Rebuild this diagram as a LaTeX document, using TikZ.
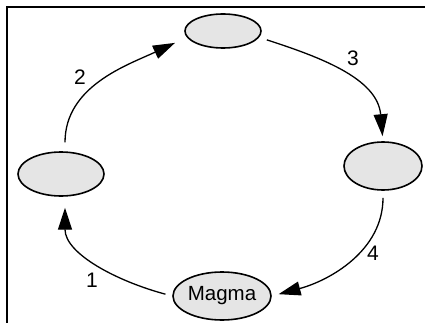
\documentclass[tikz,border=0pt]{standalone}
\usepackage{fontspec}
\setmainfont{Liberation Sans}
\usetikzlibrary{shapes.geometric,arrows.meta}
\tikzset{
  stage/.style={ellipse, draw=black, line width=1.6pt, fill=gray!20, inner sep=0pt},
  flow/.style={line width=1.3pt, -{Triangle[length=22pt,width=14pt]}},
  num/.style={font=\fontsize{21}{25}\selectfont, inner sep=0pt}
}
\begin{document}
\begin{tikzpicture}[x=1pt,y=1pt]
\useasboundingbox (0,0) rectangle (425,322);
\clip (0,0) rectangle (425,322);
\fill[white] (0,0) rectangle (425,322);
\draw[line width=1.4pt] (7,-20) -- (7,315) -- (445,315);
\node[stage, minimum width=76pt, minimum height=34pt] (top) at (223,291) {};
\node[stage, minimum width=86pt, minimum height=44pt] (left) at (61,148) {};
\node[stage, minimum width=78pt, minimum height=48pt] (right) at (383,156) {};
\node[stage, minimum width=98pt, minimum height=48pt, font=\fontsize{20.5}{24}\selectfont] (magma) at (222,26) {Magma};
\node[num] (n1) at (92,42) {1};
\node[num] (n2) at (80,245) {2};
\node[num] (n3) at (353,264) {3};
\node[num] (n4) at (373,69) {4};
\draw[flow, shorten <=7pt, shorten >=11pt] (magma.west) to[out=165,in=-90] (left.-80);
\draw[flow, shorten <=9pt, shorten >=13pt] (left.80) to[out=90,in=205] (top.190);
\draw[flow, shorten <=8pt, shorten >=5pt] (top.-10) to[out=-18,in=95] (right.north);
\draw[flow, shorten <=7pt, shorten >=7pt] (right.south) to[out=-90,in=15] (magma.east);
\end{tikzpicture}
\end{document}
